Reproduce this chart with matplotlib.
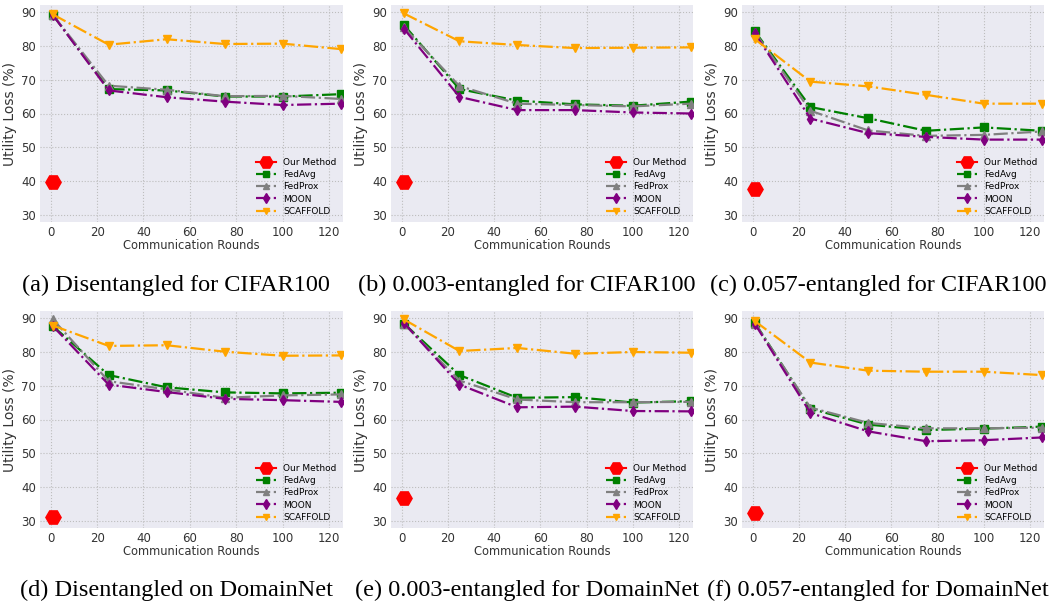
import matplotlib
matplotlib.use("Agg")
import matplotlib.pyplot as plt

rounds = [1, 25, 50, 75, 100, 125]
methods = ["FedAvg", "FedProx", "MOON", "SCAFFOLD"]

captions = [
    "(a) Disentangled for CIFAR100",
    "(b) 0.003-entangled for CIFAR100",
    "(c) 0.057-entangled for CIFAR100",
    "(d) Disentangled on DomainNet",
    "(e) 0.003-entangled for DomainNet",
    "(f) 0.057-entangled for DomainNet",
]

ours = [39.8, 39.8, 37.7, 31.2, 36.8, 32.3]

fedavg = [
    [89.0, 67.2, 66.8, 65.0, 65.0, 65.7],
    [86.1, 67.2, 63.8, 62.7, 62.3, 63.5],
    [84.2, 61.9, 58.6, 54.9, 55.9, 54.9],
    [87.5, 73.1, 69.5, 68.0, 67.7, 67.9],
    [88.3, 73.1, 66.4, 66.6, 65.0, 65.4],
    [88.5, 63.2, 58.5, 56.9, 57.3, 57.9],
]
fedprox = [
    [89.0, 68.2, 67.0, 65.1, 65.2, 64.3],
    [85.4, 68.1, 62.9, 62.5, 62.1, 62.9],
    [83.9, 60.8, 55.0, 53.4, 53.7, 54.7],
    [89.5, 71.3, 68.9, 66.4, 67.1, 67.4],
    [88.2, 71.5, 65.9, 65.1, 65.1, 65.2],
    [88.3, 63.5, 59.0, 57.4, 57.4, 57.6],
]
moon = [
    [89.0, 66.8, 64.8, 63.5, 62.5, 62.9],
    [85.0, 64.9, 61.0, 61.0, 60.3, 60.0],
    [83.6, 58.5, 54.2, 53.1, 52.3, 52.3],
    [87.5, 70.3, 68.1, 66.1, 65.7, 65.2],
    [88.5, 70.3, 63.6, 63.8, 62.5, 62.4],
    [88.2, 61.9, 56.5, 53.6, 53.9, 54.7],
]
scaffold = [
    [89.2, 80.3, 81.9, 80.5, 80.6, 79.0],
    [89.5, 81.3, 80.2, 79.3, 79.4, 79.5],
    [81.9, 69.4, 68.0, 65.5, 62.9, 62.9],
    [87.7, 81.7, 81.9, 80.0, 78.8, 78.9],
    [89.5, 80.2, 81.1, 79.4, 79.9, 79.7],
    [89.0, 76.8, 74.4, 74.1, 74.1, 73.1],
]

series = [fedavg, fedprox, moon, scaffold]
colors = ["green", "gray", "purple", "orange"]
markers = ["s", "^", "d", "v"]
yticks = [30, 40, 50, 60, 70, 80, 90]
xticks = [0, 20, 40, 60, 80, 100, 120]

W, H = 1050, 604
fig = plt.figure(figsize=(W / 100, H / 100), dpi=100)

# axes boxes in pixels (left, top, right, bottom)
boxes = [
    (40, 5, 343, 222), (391, 5, 693, 222), (742, 5, 1044, 222),
    (40, 311, 343, 528), (391, 311, 693, 528), (742, 311, 1044, 528),
]
cap_x = [176, 527, 878, 176, 527, 878]
cap_y = [285, 285, 285, 590, 590, 590]

for i in range(6):
    l, t, r, b = boxes[i]
    ax = fig.add_axes([l / W, 1 - b / H, (r - l) / W, (b - t) / H])
    ax.set_facecolor("#EAEAF2")
    for s in ax.spines.values():
        s.set_visible(False)
    ax.grid(True, color="#bdbdbd", linestyle=":", linewidth=0.8)
    ax.set_axisbelow(True)
    ax.plot([rounds[0]], [ours[i]], color="red", marker="H", markersize=11,
            linestyle="-", label="Our Method", zorder=5)
    for j, m in enumerate(methods):
        ax.plot(rounds, series[j][i], color=colors[j], marker=markers[j],
                markersize=5.5, linestyle="-.", linewidth=1.6, label=m)
    ax.set_xlim(-4.6, 126)
    ax.set_ylim(28, 92)
    ax.set_xticks(xticks)
    ax.set_yticks(yticks)
    ax.tick_params(axis="both", labelsize=8.5, colors="#333333", length=0, pad=3)
    ax.set_xlabel("Communication Rounds", fontsize=8.3, color="#333333", labelpad=0)
    ax.set_ylabel("Utility Loss (%)", fontsize=10, color="#333333", labelpad=3)
    ax.legend(loc="lower right", fontsize=6.5, frameon=False, markerscale=0.85,
              handlelength=2.2, labelspacing=0.35, borderaxespad=0.3)
    fig.text(cap_x[i] / W, 1 - cap_y[i] / H, captions[i], ha="center", va="center",
             fontsize=17.5, family="Liberation Serif")

fig.savefig("out.png", dpi=100)
